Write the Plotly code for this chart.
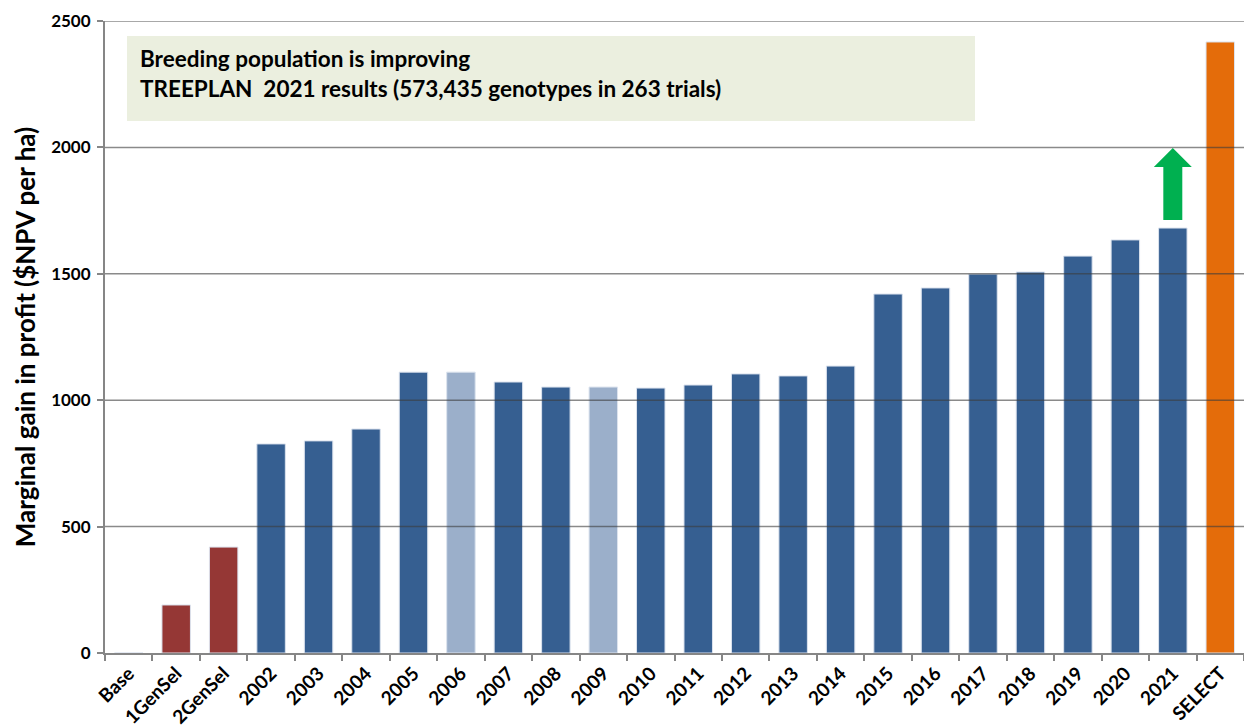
import plotly.graph_objects as go

categories = ["Base", "1GenSel", "2GenSel", "2002", "2003", "2004", "2005", "2006", "2007",
              "2008", "2009", "2010", "2011", "2012", "2013", "2014", "2015", "2016", "2017",
              "2018", "2019", "2020", "2021", "SELECT"]
values = [0, 190, 419, 827, 839, 886, 1111, 1111, 1072, 1052, 1052, 1048, 1060, 1104, 1096,
          1135, 1420, 1444, 1499, 1507, 1570, 1634, 1681, 2417]
groups = ["base", "gensel", "gensel"] + ["year"] * 4 + ["alt"] + ["year"] * 2 + ["alt"] + \
         ["year"] * 12 + ["select"]
y_ticks = [0, 500, 1000, 1500, 2000, 2500]
title_lines = ["Breeding population is improving",
               "TREEPLAN  2021 results (573,435 genotypes in 263 trials)"]

palette = {"base": "#365F91", "gensel": "#953735", "year": "#365F91",
           "alt": "#9BAFCA", "select": "#E46C0A"}
colors = [palette[g] for g in groups]

FONT = "Lato"

fig = go.Figure()
fig.add_trace(go.Bar(
    x=categories, y=values,
    marker=dict(color=colors, line=dict(color="#DCE3EE", width=1)),
    hoverinfo="x+y", showlegend=False,
))

# gridlines drawn over the bars (as in the reference)
for t in y_ticks[1:]:
    fig.add_shape(type="line", xref="paper", yref="y", x0=0, x1=1, y0=t, y1=t,
                  line=dict(color="rgba(60,60,60,0.6)", width=1.5), layer="above")

# green arrow above 2021 bar
xi = categories.index("2021")
arrow_path = (f"M {xi-0.2} 1713 L {xi+0.2} 1713 L {xi+0.2} 1922 L {xi+0.4} 1922 "
              f"L {xi} 1998 L {xi-0.4} 1922 L {xi-0.2} 1922 Z")
fig.add_shape(type="path", path=arrow_path, xref="x", yref="y",
              fillcolor="#00B050", line=dict(color="#00B050", width=0))

# title box
fig.add_shape(type="rect", xref="paper", yref="paper",
              x0=(127 - 105) / 1139, x1=(975 - 105) / 1139,
              y0=(653 - 121) / 632, y1=(653 - 36) / 632,
              fillcolor="#EBEFDF", line=dict(width=0), layer="below")
fig.add_annotation(xref="paper", yref="paper", x=(138 - 105) / 1139, y=(653 - 59) / 632,
                   text=title_lines[0], showarrow=False, xanchor="left", yanchor="middle",
                   font=dict(family=FONT, size=22.5, color="#000000", weight="bold"))
fig.add_annotation(xref="paper", yref="paper", x=(138 - 105) / 1139, y=(653 - 88) / 632,
                   text=title_lines[1], showarrow=False, xanchor="left", yanchor="middle",
                   font=dict(family=FONT, size=22.5, color="#000000", weight="bold"))

fig.update_layout(
    width=1244, height=726,
    margin=dict(l=105, r=0, t=21, b=73),
    paper_bgcolor="white", plot_bgcolor="white",
    bargap=0.4,
    font=dict(family=FONT, color="#000000"),
    xaxis=dict(
        type="category", tickangle=-45, automargin=False,
        tickfont=dict(family=FONT, size=19, color="#000000", weight="bold"),
        showline=True, linecolor="#868686", linewidth=2,
        ticks="outside", tickson="boundaries", ticklen=6, tickcolor="#868686", tickwidth=2,
        showgrid=False, range=[-0.5, len(categories) - 0.5],
    ),
    yaxis=dict(
        range=[0, 2500], tickvals=y_ticks, automargin=False,
        tickfont=dict(family=FONT, size=17, color="#000000", weight="bold"),
        ticklabelstandoff=3,
        showline=True, linecolor="#868686", linewidth=2,
        ticks="outside", ticklen=6, tickcolor="#868686", tickwidth=2,
        showgrid=False,
        zeroline=False,
        title=dict(text="Marginal gain in profit ($NPV per ha)",
                   font=dict(family=FONT, size=26, color="#000000", weight="bold"),
                   standoff=8),
    ),
)

fig.write_html("out.html", config={"displayModeBar": False},
               post_script="document.body.style.margin='0';")
